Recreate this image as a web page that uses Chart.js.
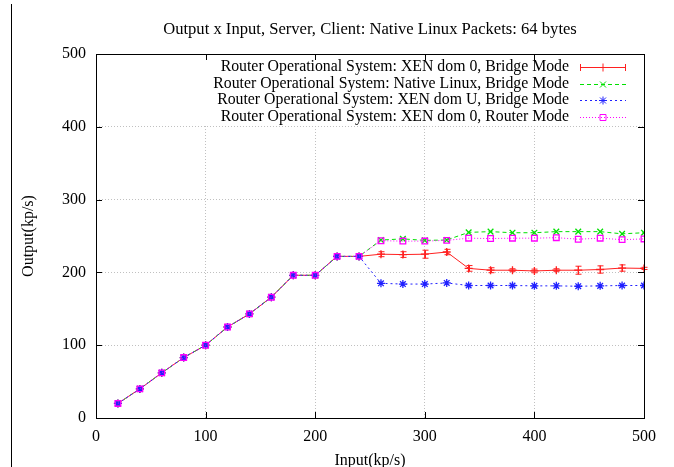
<!DOCTYPE html>
<html><head><meta charset="utf-8">
<script src="https://cdn.jsdelivr.net/npm/chart.js@4.4.1/dist/chart.umd.min.js"></script>
<style>html,body{margin:0;padding:0;background:#fff}#wrap{position:relative;width:674px;height:467px}</style>
</head><body><div id="wrap"><canvas id="c" width="674" height="467"></canvas></div>
<script>
const titleText = "Output x Input, Server, Client: Native Linux Packets: 64 bytes";
const xTitle = "Input(kp/s)";
const yTitle = "Output(kp/s)";
const inputs = [20,40,60,80,100,120,140,160,180,200,220,240,260,280,300,320,340,360,380,400,420,440,460,480,500];
const common = [20,40,62,83,100,125,143,166,196,196,222,222];
const xenDom0Bridge = common.concat([225,224.5,225,228,205.5,203,203,202,203,203,204,206,205.5]);
const xenDom0BridgeErr = [0,0,0,0,0,0,0,0,0,0,0,0,3.4,3.9,5.5,3.7,3.9,3.4,2,2.5,2,5.5,5,4.3,1.5];
const nativeBridge = common.concat([244.5,246,244,244.5,255,256,254.5,254.5,256,256,256,253,254.5]);
const xenDomUBridge = common.concat([185,184,184,185.5,182,182,182,181.5,181.5,181,181.5,182,182]);
const xenDom0Router = common.concat([243.5,243,243,244,247,246.5,247,247,247.7,245.6,247,245,246]);
const seriesNames = [
  "Router Operational System: XEN dom 0, Bridge Mode",
  "Router Operational System: Native Linux, Bridge Mode",
  "Router Operational System: XEN dom U, Bridge Mode",
  "Router Operational System: XEN dom 0, Router Mode"
];
const xTicks = [0,100,200,300,400,500];
const yTicks = [0,100,200,300,400,500];

const FONT = "'Liberation Serif', 'DejaVu Serif', serif";
const colors = ['#ff2020','#00e000','#2020ff','#ff00ff'];
const dashes = [[], [4,3], [2,3], [1,2]];
const pstyles = ['cross','crossRot','star','rect'];
const toXY = arr => arr.map((v,i)=>({x:inputs[i], y:v}));
const seriesData = [xenDom0Bridge, nativeBridge, xenDomUBridge, xenDom0Router];

function drawMarker(ctx, style, x, y, r){
  ctx.beginPath();
  if(style==='cross'||style==='star'){ ctx.moveTo(x-r,y); ctx.lineTo(x+r,y); ctx.moveTo(x,y-r); ctx.lineTo(x,y+r); }
  if(style==='crossRot'||style==='star'){ const d=r*0.75; ctx.moveTo(x-d,y-d); ctx.lineTo(x+d,y+d); ctx.moveTo(x-d,y+d); ctx.lineTo(x+d,y-d); }
  if(style==='rect'){ ctx.rect(x-r*0.75,y-r*0.75,r*1.5,r*1.5); }
  ctx.stroke();
}

const framePlugin = {
  id:'frame',
  beforeDatasetsDraw(chart){
    const ctx=chart.ctx, a=chart.chartArea;
    ctx.save();
    ctx.fillStyle='#fff';
    ctx.fillRect(185, a.top+1, a.right-185-1, 71);
    ctx.font = "15.8px "+FONT;
    ctx.textAlign='right'; ctx.textBaseline='middle';
    const rows=[67,84,100,117];
    for(let i=0;i<4;i++){
      ctx.fillStyle='#000';
      ctx.fillText(seriesNames[i], 569, rows[i]);
      ctx.strokeStyle=colors[i]; ctx.lineWidth=1;
      ctx.setLineDash(dashes[i]);
      ctx.beginPath(); ctx.moveTo(580,rows[i]+0.5); ctx.lineTo(626,rows[i]+0.5); ctx.stroke();
      ctx.setLineDash([]);
      if(i===0){ ctx.beginPath(); ctx.moveTo(580.5,rows[i]-3); ctx.lineTo(580.5,rows[i]+4); ctx.moveTo(625.5,rows[i]-3); ctx.lineTo(625.5,rows[i]+4); ctx.stroke(); }
      drawMarker(ctx, pstyles[i], 603, rows[i]+0.5, 4);
    }
    ctx.restore();
  },
  afterDatasetsDraw(chart){
    const ctx=chart.ctx, a=chart.chartArea, xs=chart.scales.x, ys=chart.scales.y;
    ctx.save();
    ctx.strokeStyle=colors[0]; ctx.lineWidth=1;
    xenDom0BridgeErr.forEach((e,i)=>{
      if(!e) return;
      const x=Math.round(xs.getPixelForValue(inputs[i]))+0.5;
      const y1=ys.getPixelForValue(xenDom0Bridge[i]+e), y2=ys.getPixelForValue(xenDom0Bridge[i]-e);
      ctx.beginPath(); ctx.moveTo(x,y1); ctx.lineTo(x,y2);
      ctx.moveTo(x-3,y1); ctx.lineTo(x+3,y1); ctx.moveTo(x-3,y2); ctx.lineTo(x+3,y2); ctx.stroke();
    });
    ctx.strokeStyle='#000'; ctx.lineWidth=1;
    ctx.strokeRect(Math.round(a.left)+0.5, Math.round(a.top)+0.5, Math.round(a.right-a.left), Math.round(a.bottom-a.top));
    ctx.beginPath();
    xTicks.forEach(v=>{ const x=Math.round(xs.getPixelForValue(v))+0.5; ctx.moveTo(x,a.bottom); ctx.lineTo(x,a.bottom-6); ctx.moveTo(x,a.top); ctx.lineTo(x,a.top+6); });
    yTicks.forEach(v=>{ const y=Math.round(ys.getPixelForValue(v))+0.5; ctx.moveTo(a.left,y); ctx.lineTo(a.left+6,y); ctx.moveTo(a.right,y); ctx.lineTo(a.right-6,y); });
    ctx.stroke();
    ctx.fillStyle='#000';
    ctx.textAlign='center'; ctx.textBaseline='middle';
    const cx=(a.left+a.right)/2;
    ctx.font="16.6px "+FONT;
    ctx.fillText(titleText, cx, 30);
    ctx.font="16px "+FONT;
    ctx.fillText(xTitle, cx, 461);
    ctx.save(); ctx.translate(29,236); ctx.rotate(-Math.PI/2); ctx.fillText(yTitle,0,0); ctx.restore();
    ctx.beginPath(); ctx.moveTo(11.5,4); ctx.lineTo(11.5,467); ctx.stroke();
    ctx.restore();
  }
};

new Chart(document.getElementById('c'), {
  type:'line',
  data:{ datasets: seriesData.map((d,i)=>({
    label: seriesNames[i], data: toXY(d),
    borderColor: colors[i], borderWidth:1, borderDash: dashes[i],
    pointStyle: pstyles[i], pointRadius:4, pointBorderColor: colors[i], pointBackgroundColor:'rgba(0,0,0,0)', pointBorderWidth:1.3,
    fill:false, tension:0, order: 4-i
  }))},
  options:{
    responsive:false, animation:false, devicePixelRatio:1,
    layout:{padding:{left:0, top:54, right:30, bottom:0}},
    plugins:{legend:{display:false}, title:{display:false}, tooltip:{enabled:false}},
    scales:{
      x:{ type:'linear', min:0, max:500,
        afterFit(s){ s.height=49; },
        afterBuildTicks(s){ s.ticks = xTicks.map(v=>({value:v})); },
        ticks:{ font:{family:FONT, size:16}, color:'#000', padding:9, maxRotation:0 },
        grid:{ color:'#c0c0c0', lineWidth:1, drawTicks:false },
        border:{ display:false, dash:[1,2] }
      },
      y:{ type:'linear', min:0, max:500,
        afterFit(s){ s.width=96; },
        afterBuildTicks(s){ s.ticks = yTicks.map(v=>({value:v})); },
        ticks:{ font:{family:FONT, size:16}, color:'#000', padding:10 },
        grid:{ color:'#c0c0c0', lineWidth:1, drawTicks:false },
        border:{ display:false, dash:[1,2] }
      }
    }
  },
  plugins:[framePlugin]
});
</script></body></html>
